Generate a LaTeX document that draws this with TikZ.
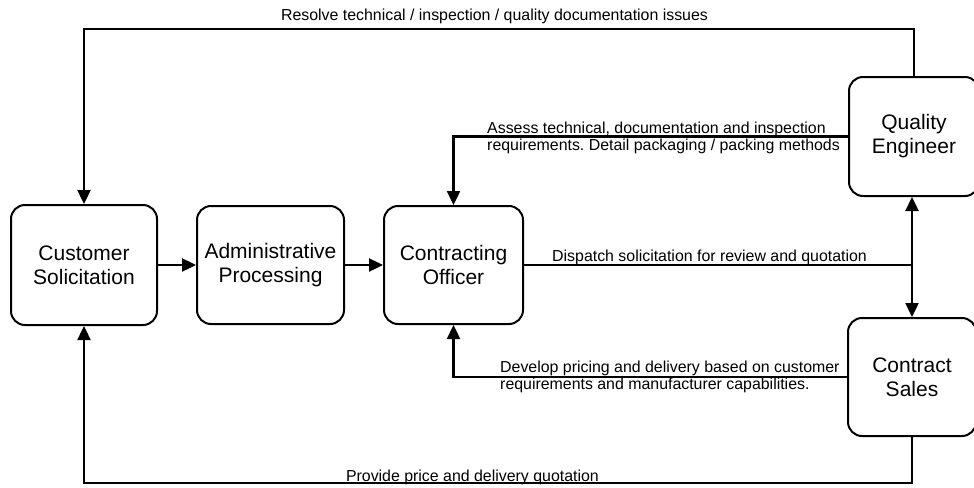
\documentclass[tikz,border=0pt]{standalone}
\usepackage{fontspec}
\setmainfont{Liberation Sans}
\usetikzlibrary{arrows.meta,calc}
\frenchspacing
\begin{document}
\begin{tikzpicture}[x=1pt,y=-1pt,
  box/.style={draw,line width=2pt,rounded corners=14pt,align=center,
    font=\fontsize{21}{24}\selectfont,inner sep=0pt},
  conn/.style={line width=2.4pt,-{Triangle[length=14pt,width=13pt]}},
  dconn/.style={line width=2.4pt,{Triangle[length=14pt,width=13pt]}-{Triangle[length=14pt,width=13pt]}},
  plain/.style={line width=2.4pt},
  lab/.style={font=\fontsize{15.9}{17}\selectfont,inner sep=0pt,align=left}]
\useasboundingbox (0,0) rectangle (974,487);
% boxes
\node[box,minimum width=146pt,minimum height=120pt] (cust) at (84,265) {Customer\\Solicitation};
\node[box,minimum width=147pt,minimum height=118pt] (adm) at (270.5,265) {Administrative\\Processing};
\node[box,minimum width=139pt,minimum height=118pt] (co) at (453.5,265) {Contracting\\Officer};
\node[box,minimum width=130pt,minimum height=119pt] (qe) at (914,136.5) {Quality\\Engineer};
\node[box,minimum width=128pt,minimum height=118pt] (cs) at (912,377) {Contract\\Sales};
% helper coordinates
\coordinate (topy) at (0,29);
\coordinate (boty) at (0,483);
% connectors
\draw[conn] (cust.east) -- (cust.east -| adm.west);
\draw[conn] (adm.east) -- (adm.east -| co.west);
\draw[conn] (qe.north) -- (qe.north |- topy) -| (cust.north);
\draw[conn] (qe.west) -| (co.north);
\draw[conn] (cs.west) -| (co.south);
\coordinate (disp) at (co.east -| cs.north);
\draw[plain] (co.east) -- (disp);
\draw[dconn] (qe.south -| cs.north) -- (cs.north);
\draw[conn] (cs.south) -- (cs.south |- boty) -| (cust.south);
% labels
\node[lab,anchor=base] (l1) at (494.5,21) {Resolve technical / inspection / quality documentation issues};
\node[lab,anchor=base west] (l2a) at (487,133) {Assess technical, documentation and inspection};
\node[lab,anchor=base west] (l2b) at (487,150) {requirements. Detail packaging / packing methods};
\node[lab,anchor=base west] (l3) at (552,261) {Dispatch solicitation for review and quotation};
\node[lab,anchor=base west] (l4a) at (500,372) {Develop pricing and delivery based on customer};
\node[lab,anchor=base west] (l4b) at (500,389) {requirements and manufacturer capabilities.};
\node[lab,anchor=base east] (l5) at (599,481) {Provide price and delivery quotation};
\end{tikzpicture}
\end{document}
